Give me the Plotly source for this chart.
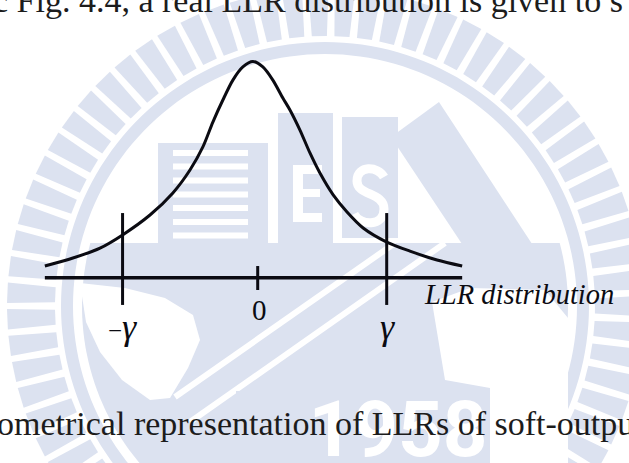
import numpy as np
import plotly.graph_objects as go

# ---------------------------------------------------------------- data
# LLR value and relative density of the sketched distribution
llr = [-6.60, -5.73, -4.89, -4.19, -3.34, -2.63, -2.10, -1.70, -1.39, -1.08, -0.77, -0.46, -0.15,
       0.16, 0.47, 0.78, 1.00, 1.31, 1.62, 1.93, 2.34, 2.77, 3.27, 4.00, 4.72, 5.56, 6.34]
density = [0.054, 0.091, 0.137, 0.198, 0.290, 0.392, 0.498, 0.605, 0.720, 0.822, 0.914, 0.975, 1.000,
           0.975, 0.914, 0.831, 0.776, 0.683, 0.577, 0.484, 0.383, 0.304, 0.230, 0.165, 0.123, 0.082, 0.054]

axis_span = [-6.60, 6.34]          # extent of the LLR axis
thresholds = [-4.19, 4.00]         # -gamma, +gamma
threshold_span = [-0.126, 0.299]   # vertical extent of the threshold bars
zero_tick_span = [-0.057, 0.054]
threshold_labels = ["<span style='font-size:25px'>−</span><i>γ</i>", "<i>γ</i>"]
zero_label = "0"
axis_title = "<i>LLR distribution</i>"
text_above = "c Fig. 4.4, a real LLR distribution is given to s"
text_below = "ometrical representation of LLRs of soft-output"
year_text = "1958"

# ---------------------------------------------------------------- frame
W, H = 629, 463
X0_PX, PX_PER_LLR = 257.7, 32.25      # pixel column of LLR = 0, pixels per LLR unit
Y0_PX, PX_PER_UNIT = 277.7, 216.2     # pixel row of density = 0, pixels per density unit


def P(px, py):
    """page pixel -> data coordinates"""
    return (px - X0_PX) / PX_PER_LLR, (Y0_PX - py) / PX_PER_UNIT


def poly(points, close=True):
    parts = []
    for i, (px, py) in enumerate(points):
        x, y = P(px, py)
        parts.append(("M" if i == 0 else "L") + f"{x:.4f},{y:.4f}")
    return " ".join(parts) + (" Z" if close else "")


def cubic(points):
    """M p0 C p1 p2 p3 C ... built from pixel points"""
    x, y = P(*points[0])
    s = f"M{x:.4f},{y:.4f}"
    rest = points[1:]
    for i in range(0, len(rest), 3):
        seg = [P(*p) for p in rest[i:i + 3]]
        s += " C" + " ".join(f"{a:.4f},{b:.4f}" for a, b in seg)
    return s


LIGHT = "#dce2f0"
shapes = []


def fill(path, color=LIGHT):
    shapes.append(dict(type="path", path=path, fillcolor=color, line=dict(width=0), layer="below"))


# ---- faint university emblem in the page background
cx, cy = 325, 306
step = np.deg2rad(4.8)
half = np.deg2rad(1.6)
for k in range(int(2 * np.pi / step)):
    a = k * step
    r1, r2 = 270, 318
    pts = [(cx + r1 * np.cos(a - half), cy - r1 * np.sin(a - half)),
           (cx + r2 * np.cos(a - half * 1.15), cy - r2 * np.sin(a - half * 1.15)),
           (cx + r2 * np.cos(a + half * 1.15), cy - r2 * np.sin(a + half * 1.15)),
           (cx + r1 * np.cos(a + half), cy - r1 * np.sin(a + half))]
    fill(poly(pts))

# ring band
ring_pts = [(cx + 264 * np.cos(t), cy - 264 * np.sin(t)) for t in np.linspace(0, 2 * np.pi, 181)]
ring_in = [(cx + 252 * np.cos(t), cy - 252 * np.sin(t)) for t in np.linspace(2 * np.pi, 0, 181)]
fill(poly(ring_pts) + " " + poly(ring_in))

# lower disc segment
chord_y = 243
r_in = 243
t0 = np.arcsin((cy - chord_y) / r_in)
ts = np.linspace(np.pi - t0, 2 * np.pi + t0, 120)
fill(poly([(cx + r_in * np.cos(t), cy - r_in * np.sin(t)) for t in ts]))

# striped block
fill(poly([(158, 143), (268, 143), (268, 243), (158, 243)]))
for top in [150, 163.5, 177.5, 191.5, 205, 219, 232.5]:
    fill(poly([(173, top), (248, top), (248, top + 6), (173, top + 6)]), "white")
# E block and S block
fill(poly([(278, 113), (333, 113), (333, 243), (278, 243)]))
fill(poly([(342, 117), (398, 117), (398, 238), (342, 238)]))
fill(poly([(293, 165), (322, 165), (322, 174), (303, 174), (303, 189), (320, 189), (320, 197),
           (303, 197), (303, 213), (322, 213), (322, 222), (293, 222)]), "white")
shapes.append(dict(type="path", layer="below", line=dict(color="white", width=9),
                   path=cubic([(384, 177), (378, 166), (357, 165), (357, 181),
                               (357, 196), (384, 192), (384, 209),
                               (384, 227), (360, 226), (354, 214)])))
# slanted band
fill(poly([(391, 137), (439, 102), (536, 250), (466, 250)]))

# white cut-outs in the lower segment
fill(poly([(80, 283), (125, 288), (165, 298), (193, 315), (200, 340), (188, 368), (170, 398),
           (150, 400), (122, 380), (100, 352), (86, 322)]), "white")
fill(poly([(432, 302), (470, 288), (545, 290), (568, 318), (568, 463), (490, 463), (490, 388),
           (445, 380)]), "white")
for (xa, ya, xb, yb) in [(175, 397, 395, 243), (190, 422, 445, 243)]:
    (x1, y1), (x2, y2) = P(xa, ya), P(xb, yb)
    shapes.append(dict(type="line", x0=x1, y0=y1, x1=x2, y1=y2, layer="below",
                       line=dict(color="white", width=6)))
# plate
fill(poly([(236, 391), (490, 391), (490, 470), (236, 470)]))

# ---------------------------------------------------------------- traces
INK = "#0b0b12"
fig = go.Figure()

yx, yy = P(398, 436)
fig.add_trace(go.Scatter(x=[yx], y=[yy], mode="text", text=[year_text], hoverinfo="skip",
                         textfont=dict(family="Roboto", size=78, color="white", weight="bold"),
                         showlegend=False))

fig.add_trace(go.Scatter(x=llr, y=density, mode="lines",
                         line=dict(color=INK, width=3, shape="spline", smoothing=0.8),
                         showlegend=False, hoverinfo="skip"))
fig.add_trace(go.Scatter(x=axis_span, y=[0, 0], mode="lines", line=dict(color=INK, width=3.5),
                         showlegend=False, hoverinfo="skip"))
for t in thresholds:
    fig.add_trace(go.Scatter(x=[t, t], y=threshold_span, mode="lines", line=dict(color=INK, width=3),
                             showlegend=False, hoverinfo="skip"))
fig.add_trace(go.Scatter(x=[0, 0], y=zero_tick_span, mode="lines", line=dict(color=INK, width=3),
                         showlegend=False, hoverinfo="skip"))

# ---------------------------------------------------------------- text
SERIF = "Liberation Serif, Tinos, Times New Roman, serif"
ann = []
lx, ly = P(259.5, 309.5)
ann.append(dict(x=lx, y=ly, text=zero_label, font=dict(family=SERIF, size=29, color=INK)))
for t, lab, dx in zip(thresholds, threshold_labels, [0.0, 0.03]):
    _, gy = P(0, 327)
    ann.append(dict(x=t + dx, y=gy, text=lab, font=dict(family=SERIF, size=36, color=INK)))
tx, ty = P(422, 294.5)
ann.append(dict(x=tx, y=ty, text=axis_title, xanchor="left", font=dict(family=SERIF, size=28.5, color=INK)))
for a in ann:
    a.update(xref="x", yref="y")

# running text of the page, positioned in page fractions
ann.append(dict(x=-9 / W, y=1 - 0 / H, xref="paper", yref="paper", text=text_above, xanchor="left",
                font=dict(family=SERIF, size=34, color="#1c1c1c")))
ann.append(dict(x=-5 / W, y=1 - 423 / H, xref="paper", yref="paper", text=text_below, xanchor="left",
                font=dict(family=SERIF, size=34, color="#1c1c1c")))
for a in ann:
    a.update(showarrow=False, yanchor="middle")
    a.setdefault("xanchor", "center")

xr = [(0 - X0_PX) / PX_PER_LLR, (W - X0_PX) / PX_PER_LLR]
yr = [(Y0_PX - H) / PX_PER_UNIT, Y0_PX / PX_PER_UNIT]
fig.update_layout(width=W, height=H, margin=dict(l=0, r=0, t=0, b=0),
                  paper_bgcolor="white", plot_bgcolor="white",
                  xaxis=dict(range=xr, visible=False, fixedrange=True),
                  yaxis=dict(range=yr, visible=False, fixedrange=True),
                  shapes=shapes, annotations=ann)
fig.write_html("out.html")
